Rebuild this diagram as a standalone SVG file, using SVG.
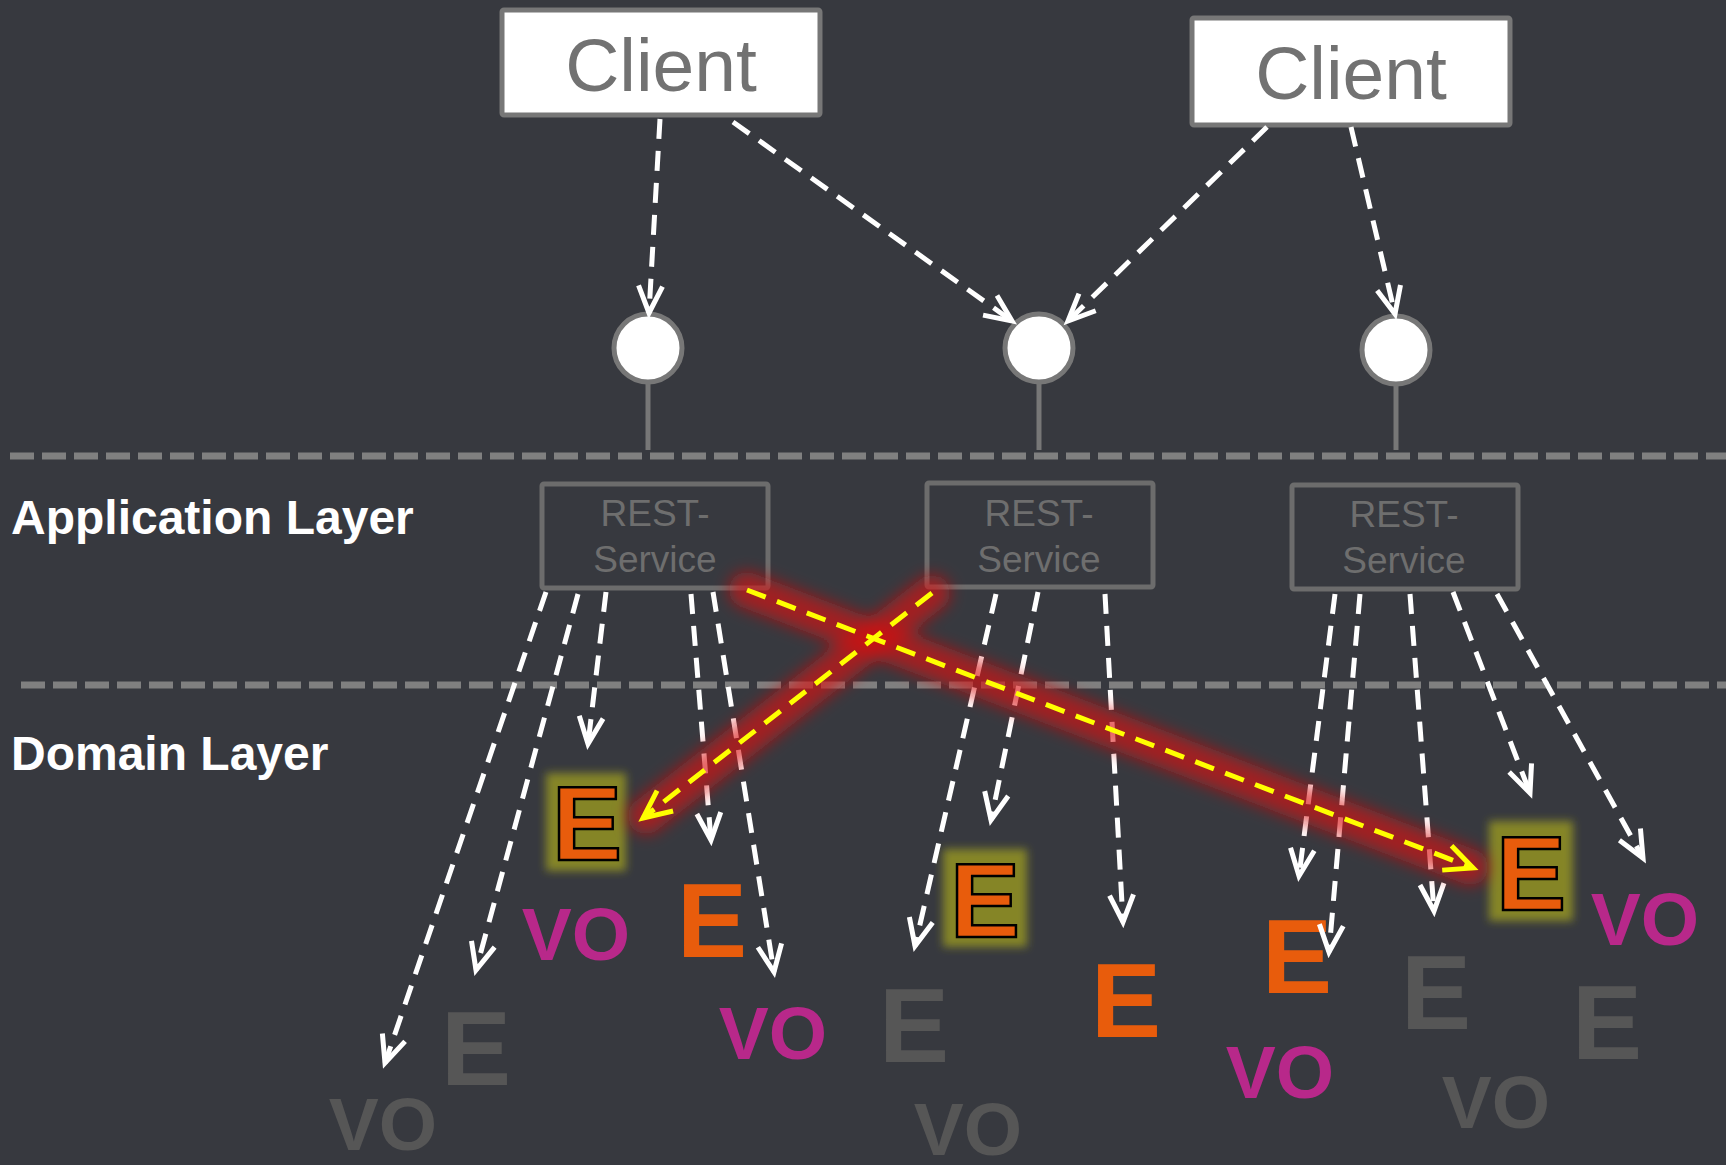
<svg xmlns="http://www.w3.org/2000/svg" width="1726" height="1165" viewBox="0 0 1726 1165">
<defs>
<style>
.bg{fill:#37393f}
.client{fill:#ffffff;stroke:#777777;stroke-width:5}
.clientText{font-family:"Liberation Sans",Arial,sans-serif;font-size:75px;fill:#727272;text-anchor:middle}
.rest{fill:none;stroke:#6c6c6c;stroke-width:5}
.restText{font-family:"Liberation Sans",Arial,sans-serif;font-size:37px;fill:#6e6e6e;text-anchor:middle}
.iface{fill:#ffffff;stroke:#777777;stroke-width:5}
.stem{stroke:#777777;stroke-width:5}
.sep{stroke:#808080;stroke-width:7;stroke-dasharray:24 8;fill:none}
.layer{font-family:"Liberation Sans",Arial,sans-serif;font-size:48px;font-weight:bold;fill:#ffffff}
.dep{fill:none;stroke:#ffffff;stroke-width:5;stroke-dasharray:20 12}
.bad{fill:none;stroke:#ffff00;stroke-width:5;stroke-dasharray:20 12}
.glow{fill:none;stroke:#d81010;stroke-opacity:0.65;stroke-width:36;stroke-linecap:round}
.big{font-family:"Liberation Sans",Arial,sans-serif;font-weight:bold;text-anchor:middle}
.e{font-size:105px}
.vo{font-size:75px}
.orange{fill:#e85c0c}
.mag{fill:#b8288a}
.gray{fill:#565656}
.hl{fill:#e85c0c;stroke:#000000;stroke-width:2.5}
.olive{fill:#858528}
</style>
<filter id="blurRed" filterUnits="userSpaceOnUse" x="0" y="0" width="1726" height="1165">
<feGaussianBlur stdDeviation="8"/>
</filter>
<filter id="blurOlive" x="-30%" y="-30%" width="160%" height="160%">
<feGaussianBlur stdDeviation="4"/>
</filter>
<marker id="wArrow" markerUnits="userSpaceOnUse" markerWidth="40" markerHeight="40" viewBox="-35 -20 40 40" refX="0" refY="0" orient="auto" overflow="visible">
<path d="M-27,-12 L0,0 L-27,12" fill="none" stroke="#ffffff" stroke-width="5"/>
</marker>
<marker id="yArrow" markerUnits="userSpaceOnUse" markerWidth="40" markerHeight="40" viewBox="-35 -20 40 40" refX="0" refY="0" orient="auto" overflow="visible">
<path d="M-28,-13 L0,0 L-28,13" fill="none" stroke="#ffff00" stroke-width="5"/>
</marker>
</defs>
<rect class="bg" x="0" y="0" width="1726" height="1165"/>

<g id="separators">
<line class="sep" x1="10" y1="456" x2="1726" y2="456"/>
<line class="sep" x1="21" y1="685" x2="1726" y2="685"/>
</g>

<g id="label-application"><text class="layer" x="11" y="534">Application Layer</text></g>
<g id="label-domain"><text class="layer" x="11" y="770">Domain Layer</text></g>

<g id="client1">
<rect class="client" x="502" y="10" width="318" height="105" rx="2"/>
<text class="clientText" x="661" y="91">Client</text>
</g>
<g id="client2">
<rect class="client" x="1192" y="18" width="318" height="107" rx="2"/>
<text class="clientText" x="1351" y="99">Client</text>
</g>

<g id="interface1">
<line class="stem" x1="648" y1="380" x2="648" y2="450"/>
<circle class="iface" cx="648" cy="348" r="34"/>
</g>
<g id="interface2">
<line class="stem" x1="1039" y1="380" x2="1039" y2="450"/>
<circle class="iface" cx="1039" cy="348" r="34"/>
</g>
<g id="interface3">
<line class="stem" x1="1396" y1="382" x2="1396" y2="450"/>
<circle class="iface" cx="1396" cy="350" r="34"/>
</g>

<g id="rest1">
<rect class="rest" x="542" y="484" width="226" height="104" rx="2"/>
<text class="restText" x="655" y="526">REST-</text>
<text class="restText" x="655" y="572">Service</text>
</g>
<g id="rest2">
<rect class="rest" x="927" y="483" width="226" height="104" rx="2"/>
<text class="restText" x="1039" y="526">REST-</text>
<text class="restText" x="1039" y="572">Service</text>
</g>
<g id="rest3">
<rect class="rest" x="1292" y="485" width="226" height="104" rx="2"/>
<text class="restText" x="1404" y="527">REST-</text>
<text class="restText" x="1404" y="573">Service</text>
</g>

<g id="domain-objects">
<g id="hlE1">
<rect class="olive" x="546" y="773" width="80" height="98" filter="url(#blurOlive)"/>
<text class="big e hl" x="587" y="860">E</text>
</g>
<g id="hlE2">
<rect class="olive" x="943" y="849" width="84" height="98" filter="url(#blurOlive)"/>
<text class="big e hl" x="985" y="937">E</text>
</g>
<g id="hlE3">
<rect class="olive" x="1489" y="821" width="84" height="100" filter="url(#blurOlive)"/>
<text class="big e hl" x="1531" y="910">E</text>
</g>
<g id="E1"><text class="big e orange" x="712" y="957">E</text></g>
<g id="E2"><text class="big e orange" x="1126" y="1037">E</text></g>
<g id="E3"><text class="big e orange" x="1297" y="993">E</text></g>
<g id="E4"><text class="big e gray" x="476" y="1085">E</text></g>
<g id="E5"><text class="big e gray" x="914" y="1062">E</text></g>
<g id="E6"><text class="big e gray" x="1436" y="1029">E</text></g>
<g id="E7"><text class="big e gray" x="1607" y="1059">E</text></g>
<g id="VO1"><text class="big vo mag" x="576" y="960">VO</text></g>
<g id="VO2"><text class="big vo mag" x="773" y="1059">VO</text></g>
<g id="VO3"><text class="big vo mag" x="1280" y="1098">VO</text></g>
<g id="VO4"><text class="big vo mag" x="1645" y="945">VO</text></g>
<g id="VO5"><text class="big vo gray" x="383" y="1150">VO</text></g>
<g id="VO6"><text class="big vo gray" x="968" y="1155">VO</text></g>
<g id="VO7"><text class="big vo gray" x="1496" y="1128">VO</text></g>
</g>

<g id="connectors">
<path class="dep" d="M660,119 L649,313" marker-end="url(#wArrow)"/>
<path class="dep" d="M733,122 L1012,321" marker-end="url(#wArrow)"/>
<path class="dep" d="M1267,127 L1068,321" marker-end="url(#wArrow)"/>
<path class="dep" d="M1351,127 L1395,314" marker-end="url(#wArrow)"/>

<path class="dep" d="M546,592 L385,1063" marker-end="url(#wArrow)"/>
<path class="dep" d="M578,594 L476,970" marker-end="url(#wArrow)"/>
<path class="dep" d="M606,592 L588,744" marker-end="url(#wArrow)"/>
<path class="dep" d="M691,594 L711,840" marker-end="url(#wArrow)"/>
<path class="dep" d="M713,592 L774,972" marker-end="url(#wArrow)"/>

<path class="dep" d="M996,594 L915,946" marker-end="url(#wArrow)"/>
<path class="dep" d="M1038,592 L991,820" marker-end="url(#wArrow)"/>
<path class="dep" d="M1105,594 L1123,922" marker-end="url(#wArrow)"/>

<path class="dep" d="M1335,594 L1299,876" marker-end="url(#wArrow)"/>
<path class="dep" d="M1360,594 L1329,952" marker-end="url(#wArrow)"/>
<path class="dep" d="M1410,594 L1434,911" marker-end="url(#wArrow)"/>
<path class="dep" d="M1453,592 L1530,793" marker-end="url(#wArrow)"/>
<path class="dep" d="M1497,594 L1643,858" marker-end="url(#wArrow)"/>

<g filter="url(#blurRed)">
<path class="glow" d="M747,590 L1470,867"/>
<path class="glow" d="M932,593 L646,816"/>
</g>
<path class="bad" d="M747,590 L1473,868" marker-end="url(#yArrow)"/>
<path class="bad" d="M932,593 L643,818" marker-end="url(#yArrow)"/>
</g>
</svg>
